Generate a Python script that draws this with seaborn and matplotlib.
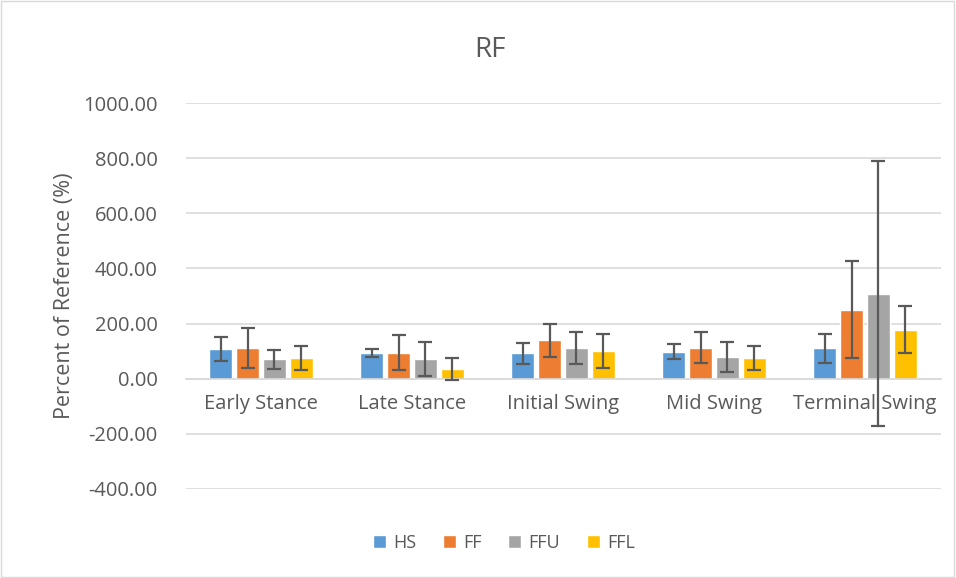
import matplotlib
matplotlib.use("Agg")
import matplotlib.pyplot as plt
import seaborn as sns
import pandas as pd
import numpy as np

# ── data ──────────────────────────────────────────────────────────────────────
phases = ["Early Stance", "Late Stance", "Initial Swing", "Mid Swing", "Terminal Swing"]
groups = ["HS", "FF", "FFU", "FFL"]
hs_mean  = [108, 94, 92, 98, 110]
ff_mean  = [111, 95, 140, 112, 251]
ffu_mean = [70, 72, 111, 79, 308]
ffl_mean = [75, 36, 101, 75, 178]
hs_sd    = [43, 14, 37, 27, 52]
ff_sd    = [72, 63, 60, 56, 176]
ffu_sd   = [35, 62, 57, 53, 480]
ffl_sd   = [42, 39, 62, 44, 84]
colors = ["#5B9BD5", "#ED7D31", "#A5A5A5", "#FFC000"]

means = [hs_mean, ff_mean, ffu_mean, ffl_mean]
sds   = [hs_sd, ff_sd, ffu_sd, ffl_sd]
df = pd.DataFrame([
    {"Phase": p, "Group": g, "Value": means[gi][pi], "SD": sds[gi][pi]}
    for gi, g in enumerate(groups) for pi, p in enumerate(phases)
])

sns.set_theme(style="white")
plt.rcParams["font.family"] = ["Open Sans", "DejaVu Sans"]
txt = "#595959"

fig = plt.figure(figsize=(9.56, 5.78), dpi=100)
ax = fig.add_axes([185.5 / 956, 1 - 489 / 578, 755 / 956, 386 / 578])

sns.barplot(data=df, x="Phase", y="Value", hue="Group", hue_order=groups,
            palette=colors, width=0.71, gap=0.14, errorbar=None,
            saturation=1, ax=ax, zorder=2)

# error bars from bar centres
bar_conts = list(ax.containers)
for gi, cont in enumerate(bar_conts):
    for pi, bar in enumerate(cont.patches):
        xc = bar.get_x() + bar.get_width() / 2
        ax.errorbar(xc, means[gi][pi], yerr=sds[gi][pi], fmt="none",
                    ecolor="#595959", elinewidth=1.6, capsize=5, capthick=1.6,
                    zorder=4, clip_on=False)

ax.set_ylim(-400, 1000)
ax.set_xlim(-0.5, 4.5)
ax.set_yticks(np.arange(-400, 1001, 200))
ax.set_yticklabels([f"{v:.2f}" for v in np.arange(-400, 1001, 200)],
                   color=txt, fontsize=14.5)
ax.yaxis.grid(True, color="#D9D9D9", linewidth=1.2, zorder=0)
ax.set_axisbelow(True)
for s in ["top", "right", "left"]:
    ax.spines[s].set_visible(False)
ax.spines["bottom"].set_position(("data", 0))
ax.spines["bottom"].set_color("#D9D9D9")
ax.spines["bottom"].set_linewidth(1.2)
ax.tick_params(axis="x", length=0, pad=11, labelsize=14.5, labelcolor=txt)
ax.tick_params(axis="y", length=0, pad=20)
ax.set_xlabel("")
ax.set_ylabel("Percent of Reference (%)", color=txt, fontsize=15.5, labelpad=6)
fig.text(490 / 956, 1 - 50 / 578, "RF", color=txt, fontsize=20,
         ha="center", va="center")

handles, labels = ax.get_legend_handles_labels()
ax.legend_.remove()
fig.legend(handles, labels, loc="center", bbox_to_anchor=(0.527, 1 - 543 / 578),
           ncol=4, frameon=False, fontsize=13, labelcolor=txt,
           handlelength=0.7, handleheight=0.7, handletextpad=0.4,
           columnspacing=1.5)

fig.patches.append(plt.Rectangle((0.001, 0.002), 0.997, 0.996, transform=fig.transFigure,
                                 fill=False, edgecolor="#D9D9D9", linewidth=1))
fig.savefig("out.png", dpi=100)
